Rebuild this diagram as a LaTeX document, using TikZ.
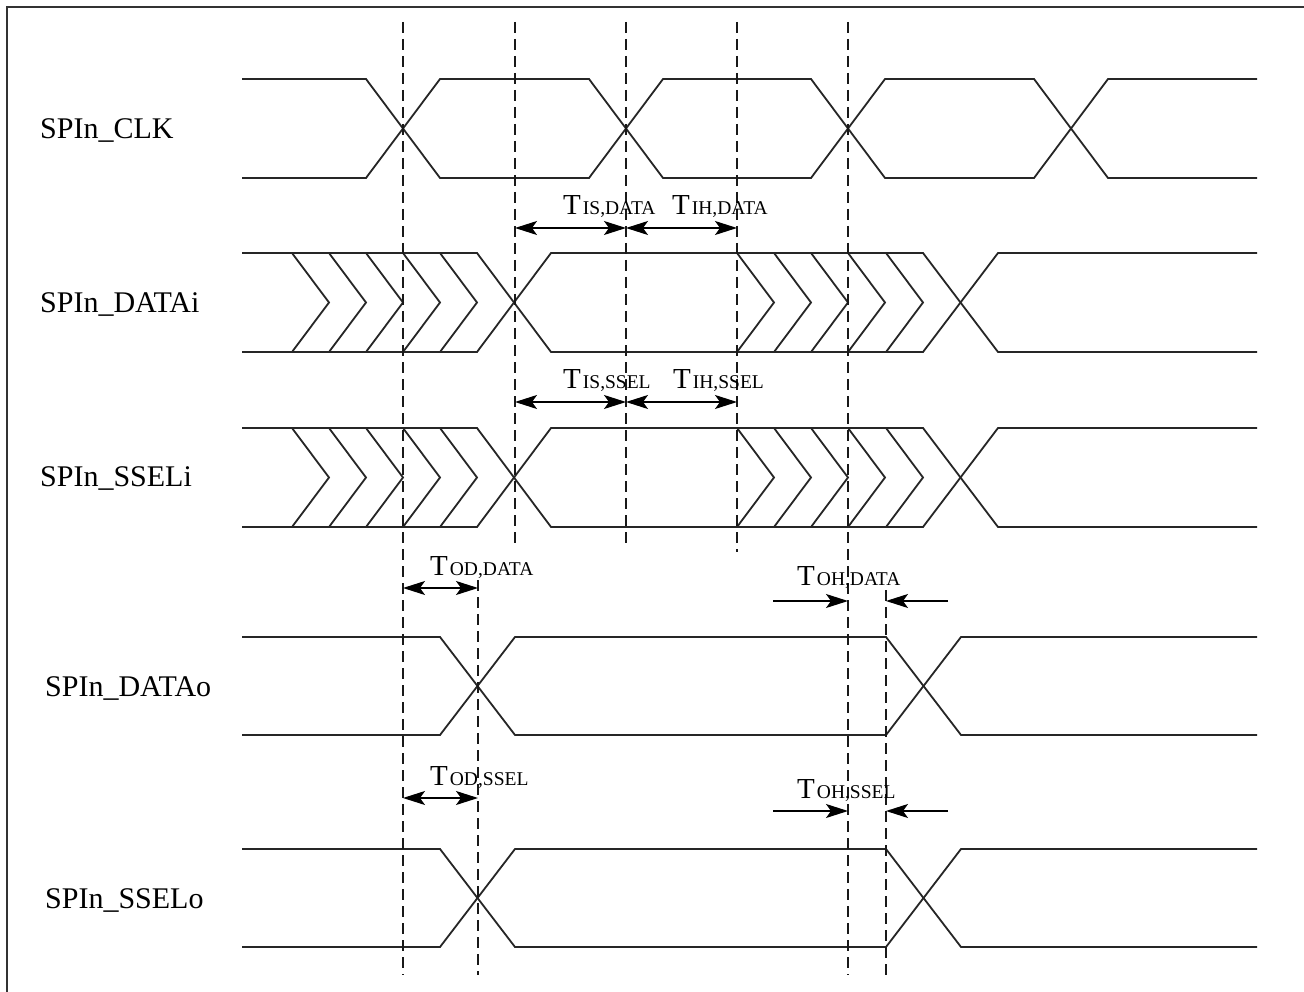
\documentclass[tikz,border=0pt]{standalone}
\usepackage{fontspec}
\setmainfont{Liberation Serif}
\usetikzlibrary{arrows.meta}
\newcommand\siglab[1]{{\fontsize{30}{30}\selectfont #1}}
\newcommand\tlab[1]{{\fontsize{29}{29}\selectfont T}\hspace{2pt}{\fontsize{19.5}{19.5}\selectfont #1}}
\begin{document}
\begin{tikzpicture}[x=1pt,y=-1pt,
  sig/.style={line width=1.8pt,black!85,line join=miter},
  vdash/.style={line width=1.6pt,black!90,dash pattern=on 11pt off 6pt},
  meas/.style={line width=1.5pt,{Stealth[length=22pt,width=14pt,inset=5pt]}-{Stealth[length=22pt,width=14pt,inset=5pt]}},
  measr/.style={line width=1.5pt,-{Stealth[length=22pt,width=14pt,inset=5pt]}},
  lab/.style={anchor=west,inner sep=0pt},
  tl/.style={anchor=base west,inner sep=0pt}]
\useasboundingbox (0,0) rectangle (1304,992);
\fill[white] (0,0) rectangle (1304,992);
% frame
\draw[line width=2pt,black!80] (7,992) -- (7,7) -- (1304,7);
% signal labels
\node[lab] (lclk) at (40,131) {\siglab{SPIn\_CLK}};
\node[lab] (ldi) at (40,305) {\siglab{SPIn\_DATAi}};
\node[lab] (lsi) at (40,479) {\siglab{SPIn\_SSELi}};
\node[lab] (ldo) at (45,688) {\siglab{SPIn\_DATAo}};
\node[lab] (lso) at (45,900) {\siglab{SPIn\_SSELo}};
% CLK
\draw[sig] (242,79) -- (366,79) -- (440,178) -- (589,178) -- (663,79) -- (811,79) -- (885,178) -- (1034,178) -- (1108,79) -- (1257,79);
\draw[sig] (242,178) -- (366,178) -- (440,79) -- (589,79) -- (663,178) -- (811,178) -- (885,79) -- (1034,79) -- (1108,178) -- (1257,178);
% DATAi and SSELi
\foreach \T/\B in {253/352,428/527}{
  \pgfmathsetmacro\M{(\T+\B)/2}
  \draw[sig] (242,\T) -- (477,\T) -- (551,\B) -- (923,\B) -- (998,\T) -- (1257,\T);
  \draw[sig] (242,\B) -- (477,\B) -- (551,\T) -- (923,\T) -- (998,\B) -- (1257,\B);
  \foreach \s in {292,329,366,403,440,737,774,811,848,886}{
    \draw[sig] (\s,\T) -- (\s+37,\M) -- (\s,\B);
  }
}
% DATAo and SSELo
\foreach \T/\B in {637/735,849/947}{
  \draw[sig] (242,\T) -- (440,\T) -- (515,\B) -- (886,\B) -- (961,\T) -- (1257,\T);
  \draw[sig] (242,\B) -- (440,\B) -- (515,\T) -- (886,\T) -- (961,\B) -- (1257,\B);
}
% dashed reference lines
\draw[vdash] (403,22) -- (403,975);
\draw[vdash] (515,22) -- (515,545);
\draw[vdash] (626,22) -- (626,545);
\draw[vdash] (737,22) -- (737,552);
\draw[vdash] (848,22) -- (848,975);
\draw[vdash] (478,580) -- (478,975);
\draw[vdash] (886,590) -- (886,975);
% timing measures
\coordinate (a1) at (515,228); \coordinate (a2) at (626,228); \coordinate (a3) at (737,228);
\draw[meas] (a1) -- (a2);
\draw[meas] (a2) -- (a3);
\node[tl] (tisd) at (563,215) {\tlab{IS,DATA}};
\node[tl] (tihd) at (672,215) {\tlab{IH,DATA}};
\coordinate (b1) at (515,402); \coordinate (b2) at (626,402); \coordinate (b3) at (737,402);
\draw[meas] (b1) -- (b2);
\draw[meas] (b2) -- (b3);
\node[tl] (tiss) at (563,388) {\tlab{IS,SSEL}};
\node[tl] (tihs) at (673,388) {\tlab{IH,SSEL}};
\coordinate (c1) at (403,588); \coordinate (c2) at (478,588);
\draw[meas] (c1) -- (c2);
\node[tl] (todd) at (430,575) {\tlab{OD,DATA}};
\coordinate (d1) at (773,601); \coordinate (d2) at (848,601); \coordinate (d3) at (948,601); \coordinate (d4) at (886,601);
\draw[measr] (d1) -- (d2);
\draw[measr] (d3) -- (d4);
\node[tl] (tohd) at (797,585) {\tlab{OH,DATA}};
\coordinate (e1) at (403,798); \coordinate (e2) at (478,798);
\draw[meas] (e1) -- (e2);
\node[tl] (tods) at (430,785) {\tlab{OD,SSEL}};
\coordinate (f1) at (773,811); \coordinate (f2) at (848,811); \coordinate (f3) at (948,811); \coordinate (f4) at (886,811);
\draw[measr] (f1) -- (f2);
\draw[measr] (f3) -- (f4);
\node[tl] (tohs) at (797,798) {\tlab{OH,SSEL}};
\end{tikzpicture}
\end{document}
